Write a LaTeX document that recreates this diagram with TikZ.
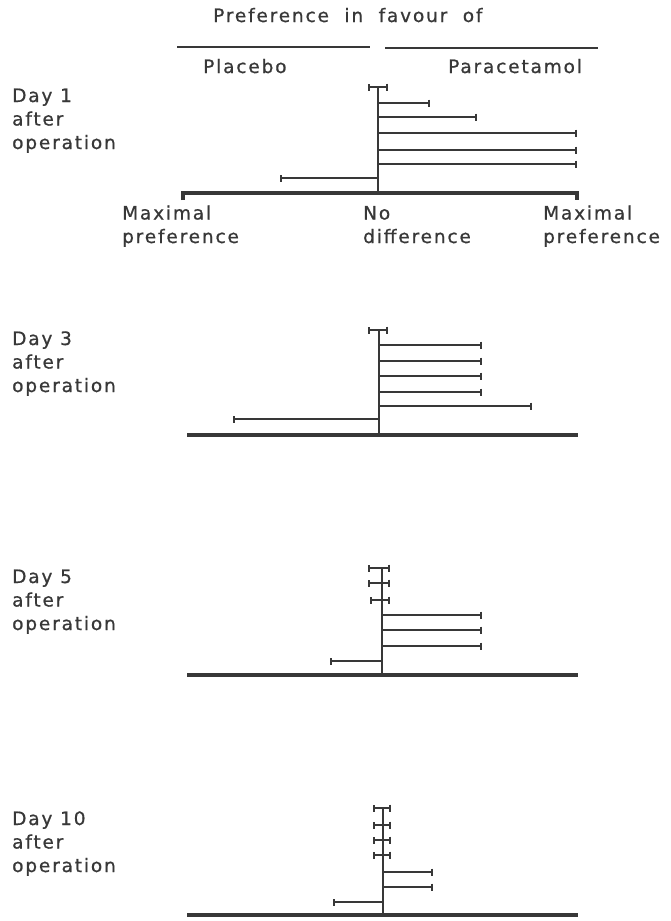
\documentclass[tikz,border=0pt]{standalone}
\usepackage{fontspec}
\setmainfont{DejaVu Sans}[LetterSpace=10, FakeBold=0.8]
\usetikzlibrary{arrows.meta, positioning}
\definecolor{inkGray}{HTML}{383838}
\tikzset{
  stem/.style={inkGray, line width=2.8pt},
  axisline/.style={inkGray, line width=3.2pt},
  barR/.style={-{Bar[width=7pt, line width=2.2pt]}, inkGray, line width=2.8pt},
  barL/.style={{Bar[width=7pt, line width=2.2pt]}-, inkGray, line width=2.8pt},
  barB/.style={{Bar[width=7pt, line width=2.2pt]}-{Bar[width=7pt, line width=2.2pt]}, inkGray, line width=2.8pt},
  lbl/.style={inner sep=0pt, anchor=base west, text=inkGray, align=left,
              font=\fontsize{18.5}{23.5}\selectfont},
}

\begin{document}
\begin{tikzpicture}[x=1pt, y=-1pt]
  \useasboundingbox[fill=white] (0,0) rectangle (671,921);

  % heading
  \node[lbl] (title) at (213,22) {Preference\ \ in\ \ favour\ \ of};
  \draw[stem] (177,47) -- (370,47);
  \draw[stem] (385,48) -- (598,48);
  \node[lbl] (plc) at (203,73) {Placebo};
  \node[lbl] (para) at (448,73) {Paracetamol};

  % day 1 (base = last line)
  \node[lbl] (d1) at (12,149) {Day 1\\after\\operation};
  \draw[stem] (378,87) -- (378,193);
  \draw[barB] (368,87) -- (388,87);
  \draw[barR] (378,103) -- (430,103);
  \draw[barR] (378,117) -- (477,117);
  \draw[barR] (378,133) -- (577,133);
  \draw[barR] (378,150) -- (577,150);
  \draw[barR] (378,164) -- (577,164);
  \draw[barL] (280,178) -- (378,178);
  \draw[axisline] (183,200) -- (183,193) -- (577,193) -- (577,200);
  \node[lbl] (maxL) at (122,243) {Maximal\\preference};
  \node[lbl] (nodiff) at (363,243) {No\\difference};
  \node[lbl] (maxR) at (543,243) {Maximal\\preference};

  % day 3
  \node[lbl] (d3) at (12,392) {Day 3\\after\\operation};
  \draw[stem] (379,330) -- (379,435);
  \draw[barB] (368,330) -- (388,330);
  \draw[barR] (379,345) -- (482,345);
  \draw[barR] (379,361) -- (482,361);
  \draw[barR] (379,376) -- (482,376);
  \draw[barR] (379,392) -- (482,392);
  \draw[barR] (379,406) -- (532,406);
  \draw[barL] (233,419) -- (379,419);
  \draw[axisline] (187,435) -- (578,435);

  % day 5
  \node[lbl] (d5) at (12,630) {Day 5\\after\\operation};
  \draw[stem] (382,568) -- (382,675);
  \draw[barB] (368,568) -- (390,568);
  \draw[barB] (368,583) -- (390,583);
  \draw[barB] (370,600) -- (390,600);
  \draw[barR] (382,615) -- (482,615);
  \draw[barR] (382,630) -- (482,630);
  \draw[barR] (382,646) -- (482,646);
  \draw[barL] (330,661) -- (382,661);
  \draw[axisline] (187,675) -- (578,675);

  % day 10
  \node[lbl] (d10) at (12,872) {Day 10\\after\\operation};
  \draw[stem] (383,808) -- (383,915);
  \draw[barB] (373,808) -- (391,808);
  \draw[barB] (373,825) -- (391,825);
  \draw[barB] (373,840) -- (391,840);
  \draw[barB] (373,855) -- (391,855);
  \draw[barR] (383,872) -- (433,872);
  \draw[barR] (383,887) -- (433,887);
  \draw[barL] (333,902) -- (383,902);
  \draw[axisline] (187,915) -- (578,915);
\end{tikzpicture}
\end{document}
